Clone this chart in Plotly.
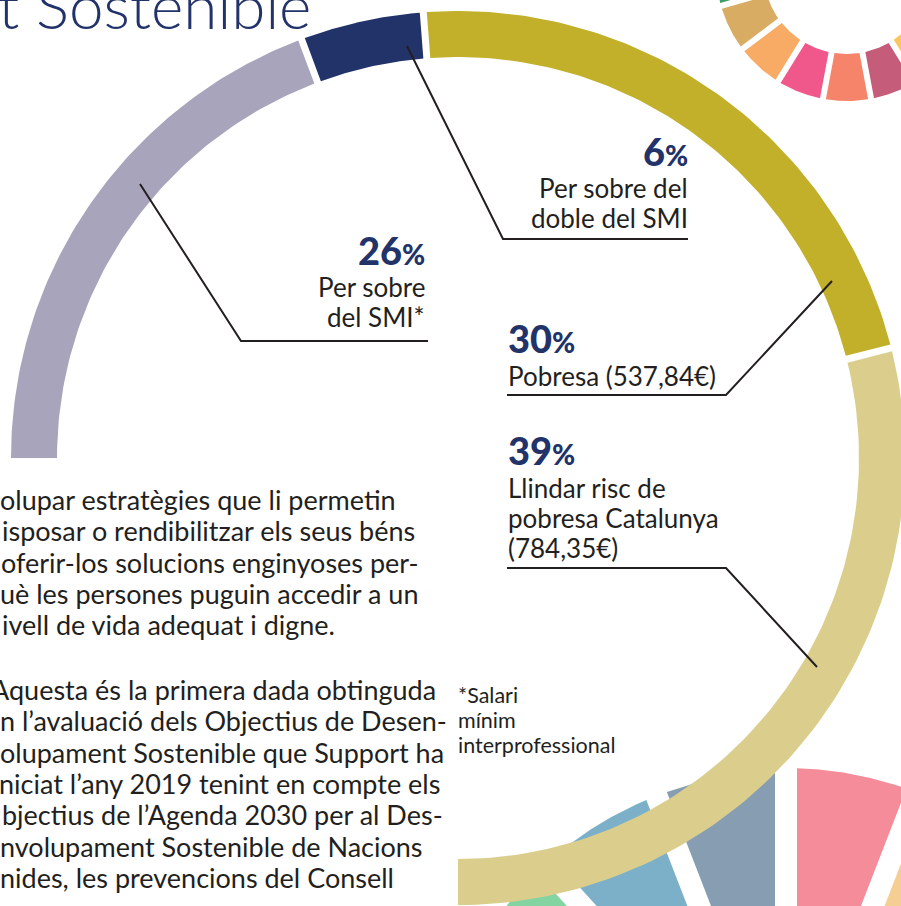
import numpy as np
import plotly.graph_objects as go

# ---------------- data ----------------
ring_labels = ["Per sobre del SMI*", "Per sobre del doble del SMI",
               "Pobresa (537,84€)", "Llindar risc de pobresa Catalunya (784,35€)"]
ring_values = [26, 6, 30, 39]
ring_pct_text = ["26", "6", "30", "39"]
ring_colors = ["#A8A4BB", "#22336A", "#C2B02B", "#DBCE8C"]

sdg_goals = list(range(1, 18))
sdg_wheel_colors = ["#EF7C89", "#E8C48A", "#8CC47C", "#DA6F79", "#FF8A6E",
                    "#7CD3EE", "#FCC75A", "#C55C7A", "#F5846A", "#F0588C",
                    "#F7AB65", "#D9AC64", "#3E9E68", "#5CB8E6", "#8FD46B",
                    "#4D95BA", "#5E7F98"]

rose_goals = [15, 16, 17, 1, 2]
rose_values = [99, 99, 99, 100, 85]
rose_colors = ["#84D4A2", "#7BB0C8", "#879DB1", "#F48C9A", "#F5CE93"]

body_par1 = ["olupar estratègies que li permetin",
             "isposar o rendibilitzar els seus béns",
             "oferir-los solucions enginyoses per-",
             "uè les persones puguin accedir a un",
             "ivell de vida adequat i digne."]
body_par2 = ["Aquesta és la primera dada obtinguda",
             "n l’avaluació dels Objectius de Desen-",
             "olupament Sostenible que Support ha",
             "niciat l’any 2019 tenint en compte els",
             "bjectius de l’Agenda 2030 per al Des-",
             "nvolupament Sostenible de Nacions",
             "nides, les prevencions del Consell"]
footnote = ["*Salari", "mínim", "interprofessional"]

# ---------------- geometry / style ----------------
W, H = 901, 906
FONT = "Lato"
NAVY = "#22336A"
INK = "#231F20"

RING_C = (458, 458)
RING_R = (401, 447)
RING_START, RING_END = -90.0, 180.0
RING_GAP = 3.5

WHEEL_C = (847, -30)
WHEEL_R = (84, 131)
WHEEL_GAP = 3.0

ROSE_C = (786, 1130)
ROSE_SCALE = 3.62
ROSE_GAP = 11.0


def sector(c, r_in, r_out, a0, a1, g0, g1, n=90):
    cx, cy = c
    a0o = a0 + np.degrees(np.arcsin(g0 / r_out))
    a1o = a1 - np.degrees(np.arcsin(g1 / r_out))
    th = np.radians(np.linspace(a0o, a1o, n))
    xo = cx + r_out * np.sin(th)
    yo = cy - r_out * np.cos(th)
    if r_in > 0:
        a0i = a0 + np.degrees(np.arcsin(g0 / r_in))
        a1i = a1 - np.degrees(np.arcsin(g1 / r_in))
        thi = np.radians(np.linspace(a1i, a0i, n))
        xi = cx + r_in * np.sin(thi)
        yi = cy - r_in * np.cos(thi)
    else:
        h = np.radians((a1 - a0) / 2)
        m = np.radians((a1 + a0) / 2)
        d = g0 / np.sin(h)
        xi = np.array([cx + d * np.sin(m)])
        yi = np.array([cy - d * np.cos(m)])
    x = np.concatenate([xo, xi, xo[:1]])
    y = np.concatenate([yo, yi, yo[:1]])
    return x, y


def poly_trace(x, y, color, name):
    return go.Scatter(x=x, y=y, mode="lines", fill="toself", fillcolor=color,
                      line=dict(width=0, color=color), hoverinfo="skip", name=name)


fig = go.Figure()

# bottom-right SDG rose (partially visible)
seg = 360.0 / len(sdg_goals)
for g, v, col in zip(rose_goals, rose_values, rose_colors):
    a0 = (g - 1) * seg
    if a0 > 180:
        a0 -= 360
    x, y = sector(ROSE_C, 0, v * ROSE_SCALE, a0, a0 + seg, ROSE_GAP, ROSE_GAP)
    fig.add_trace(poly_trace(x, y, col, f"ODS {g}"))

# top-right SDG wheel
for g, col in zip(sdg_goals, sdg_wheel_colors):
    a0 = (g - 1) * seg
    x, y = sector(WHEEL_C, WHEEL_R[0], WHEEL_R[1], a0, a0 + seg, WHEEL_GAP, WHEEL_GAP)
    fig.add_trace(poly_trace(x, y, col, f"ODS {g}"))

# main ring (270 degrees)
total = float(sum(ring_values))
cum = np.concatenate([[0], np.cumsum(ring_values)])
angles = RING_START + cum / total * (RING_END - RING_START)
for i, (lab, col) in enumerate(zip(ring_labels, ring_colors)):
    g0 = RING_GAP if i > 0 else 0.0
    g1 = RING_GAP if i < len(ring_values) - 1 else 0.0
    x, y = sector(RING_C, RING_R[0], RING_R[1], angles[i], angles[i + 1], g0, g1)
    fig.add_trace(poly_trace(x, y, col, lab))

# ---------------- texts ----------------
ann = []


def txt(x, y, text, size, color=INK, xanchor="left", weight=400):
    ann.append(dict(x=x / W, y=1 - y / H, xref="paper", yref="paper", text=text,
                    showarrow=False, xanchor=xanchor, yanchor="middle", align=xanchor,
                    borderpad=0,
                    font=dict(family=FONT, size=size, color=color, weight=weight)))


def base(b, size):
    return b - 0.387 * size


# title (cut at top edge, as in the page)
txt(-3, base(29, 62), "t Sostenible", 62, NAVY, "left", 300)

NUM = 38
PCT = 28
LBL = 26


def pct(v):
    return f"{v}<span style='font-size:{PCT}px'>%</span>"


# 26 %
txt(426, base(265, NUM), pct(ring_pct_text[0]), NUM, NAVY, "right", 900)
txt(426, base(297.5, LBL), "Per sobre", LBL, INK, "right")
txt(426, base(327.5, LBL), "del SMI*", LBL, INK, "right")
# 6 %
txt(689, base(166, NUM), pct(ring_pct_text[1]), NUM, NAVY, "right", 900)
txt(689, base(198.5, LBL), "Per sobre del", LBL, INK, "right")
txt(689, base(228.5, LBL), "doble del SMI", LBL, INK, "right")
# 30 %
txt(507, base(353, NUM), pct(ring_pct_text[2]), NUM, NAVY, "left", 900)
txt(507, base(386, LBL), "Pobresa (537,84€)", LBL, INK, "left")
# 39 %
txt(507, base(465, NUM), pct(ring_pct_text[3]), NUM, NAVY, "left", 900)
txt(507, base(498, LBL), "Llindar risc de", LBL, INK, "left")
txt(507, base(528, LBL), "pobresa Catalunya", LBL, INK, "left")
txt(507, base(558, LBL), "(784,35€)", LBL, INK, "left")

# footnote
FOOT = 21.5
for k, line in enumerate(footnote):
    txt(457, base(703 + 25 * k, FOOT), line, FOOT, INK, "left")

# body text
BODY = 27
xs1 = [-1, 1, 0, -1, 1]
for k, line in enumerate(body_par1):
    txt(xs1[k], base(510 + 31.3 * k, BODY), line, BODY, INK, "left")
xs2 = [-10, -1, -1, -2, 1, -1, -1]
for k, line in enumerate(body_par2):
    txt(xs2[k], base(700 + 31.3 * k, BODY), line, BODY, INK, "left")

# leader lines
leaders = [
    "M 140 184 L 241 341 L 428 341",
    "M 407 46 L 503 239 L 688 239",
    "M 832 281 L 726 395 L 507 395",
    "M 817 667 L 726 568 L 507 568",
]
shapes = [dict(type="path", path=p, xref="x", yref="y",
               line=dict(color=INK, width=2)) for p in leaders]

fig.update_layout(
    width=W, height=H,
    margin=dict(l=0, r=0, t=0, b=0, pad=0),
    paper_bgcolor="white", plot_bgcolor="white",
    showlegend=False, hovermode=False,
    xaxis=dict(range=[0, W], visible=False, fixedrange=True),
    yaxis=dict(range=[H, 0], visible=False, fixedrange=True),
    annotations=ann, shapes=shapes,
)

fig.write_html("out.html", config={"displayModeBar": False, "staticPlot": True},
               post_script="document.body.style.margin='0px';")
